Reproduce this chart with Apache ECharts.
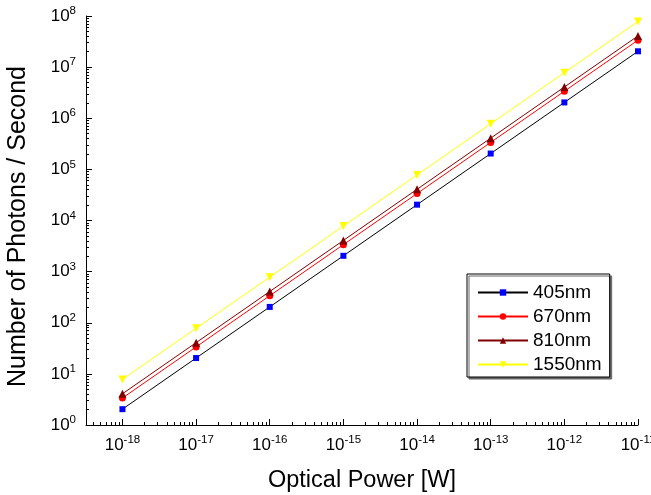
<!DOCTYPE html>
<html>
<head>
<meta charset="utf-8">
<script src="https://cdn.jsdelivr.net/npm/echarts@6/dist/echarts.min.js"></script>
<style>
  html, body { margin: 0; padding: 0; background: #fff; }
  #container { width: 651px; height: 495px; }
</style>
</head>
<body>
<div id="container"></div>
<script>
// optical power [W]
var power = [1e-18, 1e-17, 1e-16, 1e-15, 1e-14, 1e-13, 1e-12, 1e-11];
// photons per second
var n405 = [2.04, 20.4, 204, 2040, 20400, 204000, 2040000, 20400000];
var n670 = [3.37, 33.7, 337, 3370, 33700, 337000, 3370000, 33700000];
var n810 = [4.08, 40.8, 408, 4080, 40800, 408000, 4080000, 40800000];
var n1550 = [7.8, 78, 780, 7800, 78000, 780000, 7800000, 78000000];
var xMin = 3.2e-19, xMax = 1e-11;
var yMin = 1, yMax = 1e8;

var font = 'Liberation Sans';

function pairs(ys) {
	var out = [];
	for (var i = 0; i < power.length; i++) out.push([power[i], ys[i]]);
	return out;
}

// 10^n labels, only on whole decades
function powLabel(v) {
	var l = Math.log10(v);
	var e = Math.round(l);
	if (Math.abs(l - e) > 0.01) return '';
	return '{b|10}{s|' + e + '}';
}
var richLbl = {
	b: { fontSize: 17, fontFamily: font, color: '#000' },
	s: { fontSize: 11.5, fontFamily: font, color: '#000', verticalAlign: 'bottom', padding: [0, 0, 10, 0] }
};

// minor ticks at 2..9 of every decade, in log10 space for the overlay axes
function minorTicks(lo, hi) {
	var t = [];
	for (var e = Math.floor(lo); e < hi; e++) {
		for (var k = 2; k < 10; k++) {
			var v = e + Math.log10(k);
			if (v >= lo && v <= hi) t.push(v);
		}
	}
	return t;
}

var chart = echarts.init(document.getElementById('container'));

function line(name, ys, color, lineColor, symbol, size, rot) {
	return {
		name: name,
		type: 'line',
		data: pairs(ys),
		symbol: symbol,
		symbolSize: size,
		symbolRotate: rot || 0,
		lineStyle: { color: lineColor, width: 1 },
		itemStyle: { color: color },
		emphasis: { disabled: true },
		animation: false
	};
}

chart.setOption({
	animation: false,
	grid: { left: 86, top: 16, right: 13, bottom: 70, outerBoundsMode: 'none', containLabel: false },
	xAxis: [{
		type: 'log',
		min: xMin,
		max: xMax,
		name: 'Optical Power [W]',
		nameLocation: 'middle',
		nameGap: 44,
		nameTextStyle: { fontSize: 23.5, fontFamily: font, color: '#000' },
		axisLine: { lineStyle: { color: '#000', width: 1 } },
		axisTick: { inside: true, length: 6, lineStyle: { color: '#000' } },
		axisLabel: { interval: 0, margin: 9, fontSize: 17, fontFamily: font, color: '#000', formatter: powLabel, rich: richLbl, hideOverlap: false },
		splitLine: { show: false }
	}, {
		type: 'value',
		min: Math.log10(xMin),
		max: Math.log10(xMax),
		position: 'bottom',
		axisLine: { show: false },
		axisTick: { inside: true, length: 3, customValues: minorTicks(Math.log10(xMin), Math.log10(xMax)), lineStyle: { color: '#000' } },
		axisLabel: { show: false },
		splitLine: { show: false }
	}],
	yAxis: [{
		type: 'log',
		min: yMin,
		max: yMax,
		name: 'Number of Photons / Second',
		nameLocation: 'middle',
		nameGap: 55,
		nameTextStyle: { fontSize: 25, fontFamily: font, color: '#000', padding: [0, 12, 0, 0] },
		axisLine: { show: true, lineStyle: { color: '#000', width: 1 } },
		axisTick: { show: true, inside: true, length: 6, lineStyle: { color: '#000' } },
		axisLabel: { interval: 0, margin: 10, fontSize: 17, fontFamily: font, color: '#000', formatter: powLabel, rich: richLbl },
		splitLine: { show: false }
	}, {
		type: 'value',
		min: 0,
		max: 8,
		position: 'left',
		axisLine: { show: false },
		axisTick: { show: true, inside: true, length: 3, customValues: minorTicks(0, 8), lineStyle: { color: '#000' } },
		axisLabel: { show: false },
		splitLine: { show: false }
	}],
	legend: {
		orient: 'vertical',
		left: 467,
		top: 274,
		padding: [9, 8, 3, 10],
		itemGap: 5,
		itemWidth: 50,
		itemHeight: 8,
		backgroundColor: '#fff',
		borderColor: '#000',
		borderWidth: 1,
		borderRadius: 0,
		shadowColor: '#666',
		shadowOffsetX: 2,
		shadowOffsetY: 2,
		shadowBlur: 0,
		textStyle: { fontSize: 19, lineHeight: 19, fontFamily: font, color: '#000' },
		data: ['405nm', '670nm', '810nm', '1550nm']
	},
	series: [
		line('405nm', n405, '#0000ff', '#000000', 'rect', 6),
		line('670nm', n670, '#ff0000', '#ff0000', 'circle', 7),
		line('810nm', n810, '#800000', '#800000', 'triangle', 8),
		line('1550nm', n1550, '#ffff00', '#ffff00', 'triangle', 8, 180)
	]
});

window.addEventListener('resize', function () {
	chart.resize();
});
</script>
</body>
</html>
